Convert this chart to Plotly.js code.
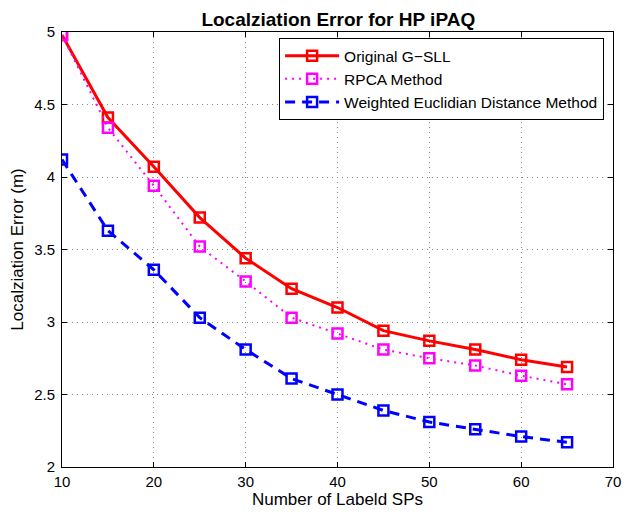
<!DOCTYPE html>
<html><head><meta charset="utf-8">
<script src="https://cdn.plot.ly/plotly-3.0.1.min.js"></script>
<style>body{margin:0;background:#fff}#chart{width:623px;height:514px}</style>
</head><body><div id="chart"></div>
<script>
const xs = [10,15,20,25,30,35,40,45,50,55,60,65];
const originalGSLL = [4.98,4.41,4.07,3.72,3.44,3.23,3.10,2.94,2.87,2.81,2.74,2.69];
const rpcaMethod = [4.98,4.34,3.94,3.52,3.28,3.03,2.92,2.81,2.75,2.70,2.63,2.57];
const weightedED = [4.12,3.63,3.36,3.03,2.81,2.61,2.50,2.39,2.31,2.26,2.21,2.17];
const seriesNames = ['Original G\u2212SLL','RPCA Method','Weighted Euclidian Distance Method'];
const xTicks = [10,20,30,40,50,60,70];
const yTicks = [2,2.5,3,3.5,4,4.5,5];

const font = 'Liberation Sans, Arial, sans-serif';
function tr(y, name, color, dash, lw){
  return {x: xs, y: y, name: name, type:'scatter', mode:'lines+markers',
    line:{color:color, width:lw, dash:dash},
    marker:{symbol:'square-open', size:10, color:color, line:{width:2.5, color:color}}};
}
const data = [
  tr(originalGSLL, seriesNames[0], '#ff0000', 'solid', 3),
  tr(rpcaMethod, seriesNames[1], '#ff00ff', '2px,5px', 2),
  tr(weightedED, seriesNames[2], '#0000ff', '10px,7px', 3)
];
const axisCommon = {showline:true, mirror:'ticks', linecolor:'#000', linewidth:1,
  ticks:'inside', ticklen:5, tickcolor:'#000', showgrid:true, gridcolor:'#888',
  griddash:'1px,4px', gridwidth:1, zeroline:false, tickfont:{family:font, size:15, color:'#000'}};
const layout = {
  width:623, height:514, margin:{l:62, r:10, t:32, b:47},
  paper_bgcolor:'#fff', plot_bgcolor:'#fff', showlegend:true,
  title:{text:'<b>Localziation Error for HP iPAQ</b>', font:{family:font, size:19, color:'#000'}, x:0.543, xanchor:'center', y:0.962, yanchor:'middle'},
  xaxis: Object.assign({}, axisCommon, {range:[10,70], tickvals:xTicks, ticklabelstandoff:1,
    title:{text:'Number of Labeld SPs', font:{family:font, size:17, color:'#000'}, standoff:1}}),
  yaxis: Object.assign({}, axisCommon, {range:[2,5], tickvals:yTicks, ticktext:yTicks.map(String), ticklabelstandoff:3,
    title:{text:'Localziation Error (m)', font:{family:font, size:17, color:'#000'}, standoff:6}}),
  legend:{x:0.394, y:0.986, xanchor:'left', yanchor:'top', bordercolor:'#000', borderwidth:1,
    bgcolor:'#fff', font:{family:font, size:15.5, color:'#000'}, tracegroupgap:0, itemwidth:54}
};
Plotly.newPlot('chart', data, layout, {displayModeBar:false, staticPlot:true});
</script></body></html>
